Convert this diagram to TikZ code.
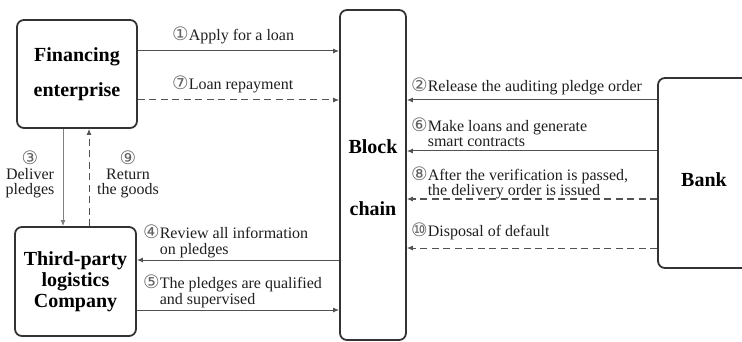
\documentclass[tikz,border=0pt]{standalone}
\usepackage{fontspec}
\setmainfont{Liberation Serif}
\newfontfamily\circfont{DejaVu Sans}
\usetikzlibrary{arrows.meta,positioning}
\tikzset{party/.style={draw=black!80,line width=1.8pt,rounded corners=7pt,
    font=\fontsize{20}{21}\selectfont\bfseries,align=center,inner sep=0pt},
    flow/.style={draw=black!68,line width=1pt,-{Latex[length=6pt,width=5pt]}},
    back/.style={flow,dash pattern=on 7pt off 4.5pt},
    lbl/.style={font=\fontsize{16}{15.5}\selectfont,align=left,inner sep=0pt,text=black!88}}
\newcommand{\cnum}[1]{{\circfont\fontsize{18.5}{15}\selectfont\color{black!62}#1}}

\begin{document}
\begin{tikzpicture}[x=1pt,y=-1pt]

  \clip (0,0) rectangle (742,342);

  % the four parties
  \node[party,minimum width=120pt,minimum height=108pt] (fin) at (77,74)
    {Financing\\[14pt]enterprise};
  \node[party,minimum width=121pt,minimum height=109pt] (logi) at (75.5,281.5)
    {Third-party\\logistics\\Company};
  \node[party,minimum width=66pt,minimum height=330pt] (chain) at (373,175)
    {\rule{0pt}{20pt}Block\\[41pt]chain};
  \node[party,minimum width=92pt,minimum height=190pt] (bank) at (704,173)
    {\rule{0pt}{27pt}Bank};

  % connectors
  \foreach \a/\b/\y/\kind in {fin.east/chain.west/51/flow, fin.east/chain.west/100/back,
                              chain.west/logi.east/260/flow, logi.east/chain.west/310/flow,
                              bank.west/chain.east/100/flow, bank.west/chain.east/151/flow,
                              bank.west/chain.east/199/back, bank.west/chain.east/248/back}
    \draw[\kind] (\a |- 0,\y) -- (\b |- 0,\y);

  \draw[flow,draw=black!50] (fin.south -| 63,0) -- (logi.north -| 63,0);
  \draw[back] (logi.north -| 89,0) -- (fin.south -| 89,0);

  % labels (base = last line)
  \node[lbl,anchor=base west] (l1) at (172,41) {\cnum{①}Apply for a loan};
  \node[lbl,anchor=base west] (l7) at (172,90) {\cnum{⑦}Loan repayment};
  \node[lbl,anchor=base west] (l2) at (411,92) {\cnum{②}Release the auditing pledge order};
  \node[lbl,anchor=base west] (l6) at (411,147)
    {\cnum{⑥}Make loans and generate\\\hphantom{\cnum{⑥}}smart contracts};
  \node[lbl,anchor=base west] (l8) at (411,196)
    {\cnum{⑧}After the verification is passed,\\\hphantom{\cnum{⑧}}the delivery order is issued};
  \node[lbl,anchor=base west] (l10) at (411,236) {\cnum{⑩}Disposal of default};
  \node[lbl,anchor=base west] (l4) at (143,254)
    {\cnum{④}Review all information\\\hphantom{\cnum{④}}on pledges};
  \node[lbl,anchor=base west] (l5) at (143,304)
    {\cnum{⑤}The pledges are qualified\\\hphantom{\cnum{⑤}}and supervised};
  \node[lbl,align=center,anchor=base] (l3) at (30,195) {\cnum{③}\\Deliver\\pledges};
  \node[lbl,align=center,anchor=base] (l9) at (128,195) {\cnum{⑨}\\Return\\the goods};

\end{tikzpicture}
\end{document}
